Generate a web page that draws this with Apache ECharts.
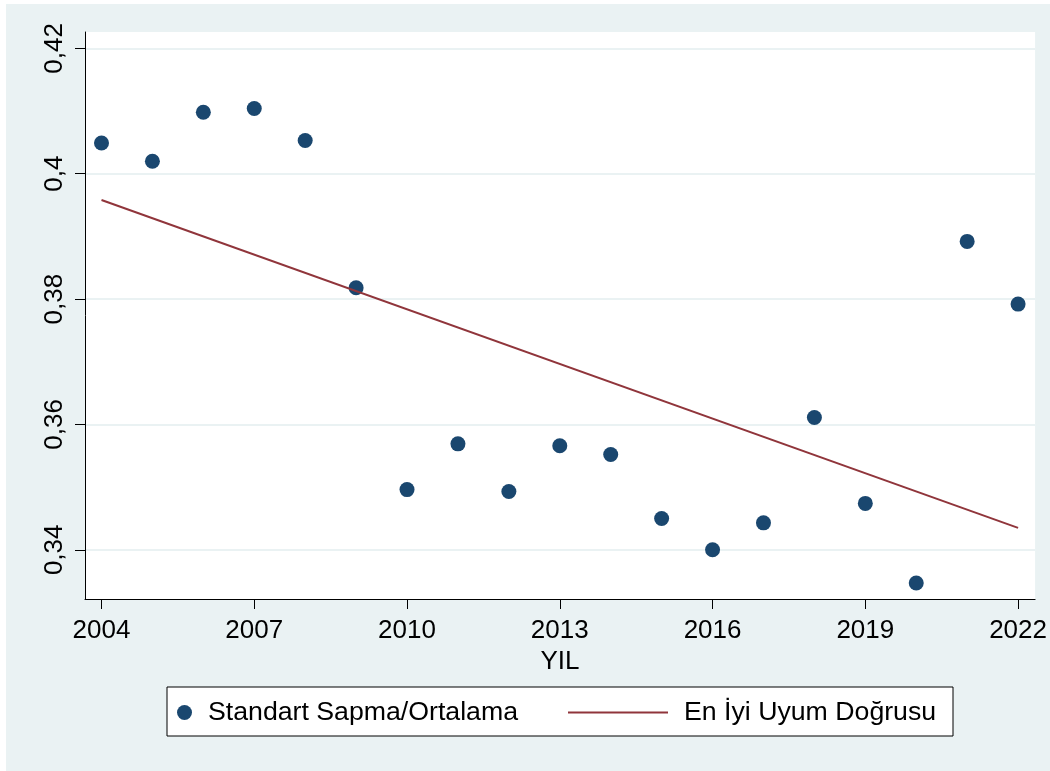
<!DOCTYPE html>
<html>
<head>
<meta charset="utf-8">
<script src="https://cdn.jsdelivr.net/npm/echarts@6/dist/echarts.min.js"></script>
<style>
  html, body { margin: 0; padding: 0; background: #fff; }
  #chart { position: absolute; left: 6px; top: 4px; width: 1044px; height: 767px; }
</style>
</head>
<body>
<div id="chart"></div>
<script>
// yillar ve degerler
const years = [2004, 2005, 2006, 2007, 2008, 2009, 2010, 2011, 2012, 2013, 2014, 2015, 2016, 2017, 2018, 2019, 2020, 2021, 2022]
const cvValues = [0.4049, 0.4020, 0.4098, 0.4104, 0.4053, 0.3818, 0.3496, 0.3569, 0.3493, 0.3566, 0.3552, 0.3450, 0.3400, 0.3443, 0.3611, 0.3474, 0.3347, 0.3892, 0.3792]
// en iyi uyum dogrusu uc noktalari
const fitYears = [2004, 2022]
const fitValues = [0.3958, 0.3435]
const xTicks = [2004, 2007, 2010, 2013, 2016, 2019, 2022]
const yTicks = [0.34, 0.36, 0.38, 0.40, 0.42]

const FONT = "'Liberation Sans', Arial, sans-serif"
const chart = echarts.init(document.getElementById('chart'))

chart.setOption({
  animation: false,
  backgroundColor: '#EAF2F3',
  textStyle: { fontFamily: FONT },
  grid: {
    left: 79, top: 28, width: 951, height: 567,
    show: true, backgroundColor: '#fff', borderWidth: 0
  },
  xAxis: {
    type: 'value',
    min: 2003.676,
    max: 2022.334,
    name: 'YIL',
    nameLocation: 'middle',
    nameGap: 45,
    nameTextStyle: { fontSize: 26, color: '#000', fontFamily: FONT },
    axisLine: { lineStyle: { color: '#000', width: 1 } },
    axisTick: { show: true, length: 10, customValues: xTicks, lineStyle: { color: '#000' } },
    axisLabel: {
      customValues: xTicks, fontSize: 26, color: '#000', margin: 19, fontFamily: FONT,
      formatter: v => String(v)
    },
    splitLine: { show: false }
  },
  yAxis: {
    type: 'value',
    min: 0.33215,
    max: 0.42261,
    axisLine: { show: true, lineStyle: { color: '#000', width: 1 } },
    axisTick: { show: true, length: 10, customValues: yTicks, lineStyle: { color: '#000' } },
    axisLabel: {
      customValues: yTicks,
      rotate: 90,
      fontSize: 26,
      color: '#000',
      margin: 17,
      fontFamily: FONT,
      formatter: v => String(Math.round(v * 100) / 100).replace('.', ',')
    },
    splitLine: { show: true, lineStyle: { color: '#EAF2F3', width: 2 } }
  },
  graphic: [{
    type: 'rect',
    z: 0,
    shape: { x: 161, y: 683, width: 786, height: 49 },
    style: { fill: '#fff', stroke: '#000', lineWidth: 1 }
  }],
  legend: [
    {
      data: ['Standart Sapma/Ortalama'],
      left: 171, top: 695, padding: 0,
      itemWidth: 15, itemHeight: 15,
      selectedMode: false,
      textStyle: { fontSize: 26.7, color: '#000', fontFamily: FONT, padding: [0, 0, 0, 11], lineHeight: 26 }
    },
    {
      data: [{ name: 'En İyi Uyum Doğrusu', icon: 'rect' }],
      left: 562, top: 695, padding: 0,
      itemWidth: 100, itemHeight: 2,
      selectedMode: false,
      textStyle: { fontSize: 26.7, color: '#000', fontFamily: FONT, padding: [0, 0, 0, 11], lineHeight: 26 }
    }
  ],
  series: [
    {
      name: 'Standart Sapma/Ortalama',
      type: 'scatter',
      symbol: 'circle',
      symbolSize: 15,
      itemStyle: { color: '#1A476F', opacity: 1 },
      data: years.map((y, i) => [y, cvValues[i]])
    },
    {
      name: 'En İyi Uyum Doğrusu',
      type: 'line',
      symbol: 'none',
      lineStyle: { color: '#90353B', width: 2 },
      itemStyle: { color: '#90353B' },
      data: fitYears.map((y, i) => [y, fitValues[i]])
    }
  ]
})
</script>
</body>
</html>
